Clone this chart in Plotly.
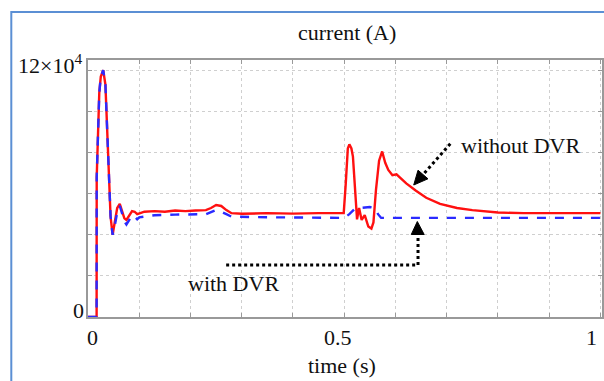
import plotly.graph_objects as go

# time (s)
t_without = [0, 0.0168, 0.017, 0.019, 0.022, 0.025, 0.0297, 0.034, 0.037, 0.0407, 0.044, 0.048,
             0.052, 0.057, 0.062, 0.067, 0.071, 0.075, 0.08, 0.086, 0.091, 0.096, 0.102, 0.11,
             0.13, 0.15, 0.17, 0.19, 0.21, 0.23, 0.24, 0.25, 0.26, 0.27, 0.28, 0.30, 0.35, 0.40, 0.45,
             0.499, 0.503, 0.507, 0.51, 0.514, 0.517, 0.521, 0.525, 0.529, 0.534, 0.54, 0.547, 0.553,
             0.557, 0.562, 0.568, 0.574, 0.58, 0.586, 0.594, 0.602, 0.612, 0.621, 0.64, 0.66, 0.687,
             0.72, 0.75, 0.80, 0.85, 0.90, 0.95, 1.0]
# current without DVR (x 10^4 A)
i_without = [0, 0, 6.8, 9.0, 10.9, 11.7, 12.0, 11.3, 9.5, 6.8, 4.9, 4.0,
             4.5, 5.3, 5.5, 5.1, 4.8, 4.72, 4.95, 5.15, 5.12, 5.0, 5.05, 5.12,
             5.15, 5.12, 5.18, 5.15, 5.18, 5.2, 5.3, 5.45, 5.4, 5.2, 5.05, 5.02, 5.05, 5.03, 5.05,
             5.05, 6.5, 8.2, 8.4, 8.2, 7.8, 6.0, 4.75, 5.3, 4.72, 4.96, 4.4, 4.3,
             4.6, 6.2, 7.6, 8.05, 7.5, 7.15, 6.9, 6.94, 6.7, 6.5, 6.14, 5.8, 5.5,
             5.3, 5.2, 5.08, 5.05, 5.06, 5.04, 5.05]

t_with = [0, 0.0168, 0.017, 0.019, 0.022, 0.025, 0.0297, 0.034, 0.037, 0.0407, 0.044, 0.048,
          0.052, 0.057, 0.062, 0.067, 0.071, 0.075, 0.08, 0.086, 0.091, 0.096, 0.1, 0.13, 0.17,
          0.21, 0.23, 0.25, 0.26, 0.27, 0.28, 0.35, 0.42, 0.5, 0.51, 0.52, 0.53, 0.55, 0.56, 0.566,
          0.572, 0.65, 0.75, 0.85, 1.0]
# current with DVR (x 10^4 A)
i_with = [0, 0, 6.8, 9.0, 10.9, 11.7, 12.0, 11.3, 9.5, 6.8, 4.9, 4.0,
          4.4, 5.1, 5.4, 5.0, 4.65, 4.5, 4.7, 4.95, 4.9, 4.75, 4.85, 4.95, 4.98,
          4.98, 5.0, 5.2, 5.12, 5.0, 4.88, 4.85, 4.84, 4.82, 5.0, 5.25, 5.3, 5.35, 5.3, 5.0,
          4.82, 4.82, 4.82, 4.82, 4.82]

x_grid = [0, 0.1, 0.2, 0.3, 0.4, 0.5, 0.6, 0.7, 0.8, 0.9, 1.0]
y_grid = [0, 2, 4, 6, 8, 10, 12]

X_RANGE = [0, 1.003]
Y_RANGE = [0, 12.5]
L, T, W, H = 88, 60, 516, 257


def px(xp, yp):
    """convert a pixel position of a decoration to axis coordinates"""
    return (X_RANGE[0] + (xp - L) / W * (X_RANGE[1] - X_RANGE[0]),
            Y_RANGE[0] + (T + H - yp) / H * (Y_RANGE[1] - Y_RANGE[0]))


def tri_path(points):
    pts = [px(a, b) for a, b in points]
    return "M " + " L ".join(f"{a:.5f},{b:.5f}" for a, b in pts) + " Z"


FONT = "Liberation Serif"
TXT = dict(family=FONT, size=22, color="#111")

fig = go.Figure()
fig.add_trace(go.Scatter(x=t_without, y=i_without, mode="lines",
                         line=dict(color="#ff1010", width=2.4)))
fig.add_trace(go.Scatter(x=t_with, y=i_with, mode="lines",
                         line=dict(color="#2a2aff", width=2.4, dash="dash")))

DOT = dict(color="black", width=3, dash="dot")
# dotted pointer lines
a0, a1 = px(451.7, 143.7), px(423.5, 175.5)
fig.add_shape(type="line", x0=a0[0], y0=a0[1], x1=a1[0], y1=a1[1], line=DOT)
b0, b1, b2 = px(226.7, 265), px(419.3, 265), px(419.3, 234)
fig.add_shape(type="line", x0=b0[0], y0=b0[1], x1=b1[0], y1=b1[1], line=DOT)
fig.add_shape(type="line", x0=b1[0], y0=b1[1], x1=b2[0], y1=b2[1], line=DOT)

# arrow heads
fig.add_shape(type="path", path=tri_path([(415, 185), (429.3, 178.8), (419.3, 170.2)]),
              fillcolor="black", line=dict(color="black", width=1))
fig.add_shape(type="path", path=tri_path([(418.6, 221.5), (412.5, 234.5), (425.5, 234.5)]),
              fillcolor="black", line=dict(color="black", width=1))

fig.add_annotation(x=px(460, 0)[0], y=px(0, 145)[1], text="without DVR", showarrow=False,
                   xanchor="left", font=TXT)
fig.add_annotation(x=px(234.5, 0)[0], y=px(0, 283)[1], text="with DVR", showarrow=False, font=TXT)

# axis tick labels
fig.add_annotation(x=(85 - 88) / 516, y=-0.078, xref="paper", yref="paper", text="0",
                   showarrow=False, yanchor="middle", font=TXT)
fig.add_annotation(x=0.488, y=-0.078, xref="x", yref="paper", text="0.5",
                   showarrow=False, yanchor="middle", font=TXT)
fig.add_annotation(x=0.998, y=-0.078, xref="x", yref="paper", text="1",
                   showarrow=False, xanchor="right", yanchor="middle", font=TXT)
fig.add_annotation(x=-0.004, y=0.027, xref="paper", yref="paper", text="0", showarrow=False,
                   xanchor="right", yanchor="middle", font=TXT)
fig.add_annotation(x=-0.008, y=0.985, xref="paper", yref="paper", text="12×10<sup>4</sup>",
                   showarrow=False, xanchor="right", yanchor="middle", font=TXT)
fig.add_annotation(x=(343 - 88) / 516, y=(317 - 365) / 257, xref="paper", yref="paper",
                   text="time (s)", showarrow=False, yanchor="middle", font=TXT)
fig.add_annotation(x=(348 - 88) / 516, y=(317 - 33) / 257, xref="paper", yref="paper",
                   text="current (A)", showarrow=False, yanchor="middle", font=TXT)

# outer border
fig.add_shape(type="rect", xref="paper", yref="paper",
              x0=(11 - 88) / 516, x1=1.1, y0=-0.5, y1=(317 - 12) / 257,
              line=dict(color="#5b8fd4", width=2), layer="below")

fig.update_layout(
    width=604, height=381, margin=dict(l=88, r=0, t=60, b=64),
    paper_bgcolor="white", plot_bgcolor="white", showlegend=False,
    xaxis=dict(range=X_RANGE, tickvals=x_grid,
               showticklabels=False, showgrid=True, gridcolor="#cfcfcf", griddash="dot",
               gridwidth=1, showline=True, linecolor="#999", linewidth=2, mirror="ticks",
               ticks="inside", ticklen=4, tickcolor="#999", zeroline=False),
    yaxis=dict(range=Y_RANGE, tickvals=y_grid, showticklabels=False, showgrid=True,
               gridcolor="#cfcfcf", griddash="dot", gridwidth=1, showline=True, linecolor="#999",
               linewidth=2, mirror="ticks", ticks="inside", ticklen=4, tickcolor="#999",
               zeroline=False),
)
fig.write_html("out.html")
